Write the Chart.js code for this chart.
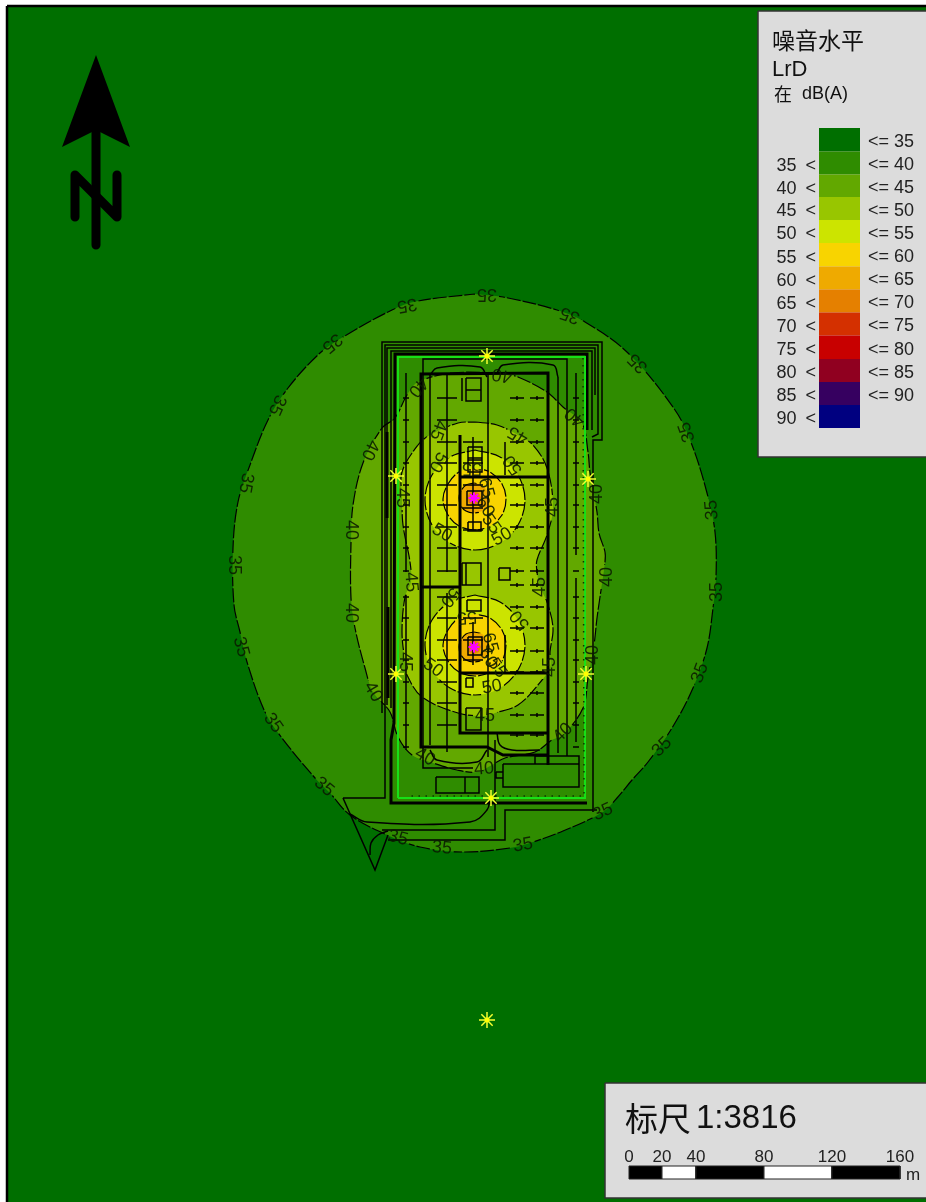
<!DOCTYPE html>
<html><head><meta charset="utf-8">
<style>html,body{margin:0;padding:0;background:#fff}canvas{display:block}</style>
<script src="https://cdn.jsdelivr.net/npm/chart.js@4"></script>
</head><body>
<canvas id="c" width="926" height="1202" style="width:926px;height:1202px"></canvas>
<script>
// Noise bands
const bandColors=['#006f00','#2f8c00','#62a800','#98c600','#cce400','#f8d400','#efaa00','#e58000','#d43000','#c80000','#900020','#360060','#000080'];
const legendEdges=[128,151.5,174.5,197,220,243,266.5,289.5,312.5,335.5,359,382,405,428];
const legendLeft=['','35 <','40 <','45 <','50 <','55 <','60 <','65 <','70 <','75 <','80 <','85 <','90 <'];
const legendRight=['<= 35','<= 40','<= 45','<= 50','<= 55','<= 60','<= 65','<= 70','<= 75','<= 80','<= 85','<= 90',''];
// Contours
const contour35=[[475,294],[503,297],[557,310],[585,322],[628,353],[675,410],[692,445],[707,493],[715,532],[716,578],[713,608],[707,648],[693,688],[672,728],[648,762],[632,780],[617,798],[603,812],[563,831],[530,843],[510,848],[463,852],[420,847],[387,835],[350,815],[330,793],[315,778],[282,738],[265,712],[247,662],[240,632],[234,605],[233,548],[238,502],[250,465],[268,420],[288,388],[320,353],[343,337],[392,310],[418,301],[475,294]];
const contour40=[[502,373],[518,377],[547,392],[563,407],[582,423],[588,452],[590,472],[597,512],[599,533],[605,552],[605,562],[600,597],[597,618],[594,645],[588,678],[583,708],[563,735],[552,740],[535,752],[505,758],[492,765],[477,772],[457,770],[433,763],[412,755],[398,737],[390,712],[373,692],[365,668],[355,628],[351,598],[351,543],[353,505],[363,463],[382,428],[395,418],[407,395],[418,382],[452,373],[502,373]];
const contour45=[[475,422],[497,425],[518,435],[533,445],[547,468],[553,507],[547,535],[537,560],[537,572],[540,587],[547,602],[553,628],[550,652],[550,667],[538,685],[518,705],[495,713],[485,716],[458,713],[422,697],[407,675],[405,662],[402,632],[405,597],[411,582],[410,562],[403,525],[402,498],[402,472],[418,445],[430,435],[458,423],[475,422]];
const contour50a=[[475,450],[500,457],[518,475],[525,500],[518,525],[500,543],[475,550],[450,543],[432,525],[425,500],[432,475],[450,457],[475,450]];
const contour50b=[[475,595],[500,602],[518,620],[525,645],[518,670],[500,688],[475,695],[450,688],[432,670],[425,645],[432,620],[450,602],[475,595]];
const contour55a=[[475,468],[490,472],[502,484],[506,499],[502,515],[490,526],[475,530],[459,526],[448,515],[443,499],[448,484],[459,472],[475,468]];
const contour55b=[[475,614],[490,618],[502,630],[506,645],[502,661],[490,672],[475,676],[459,672],[448,661],[443,645],[448,630],[459,618],[475,614]];
const contour60a=[[474,483],[482,485],[487,491],[489,498],[487,506],[482,511],[474,513],[466,511],[461,506],[459,498],[461,491],[466,485],[474,483]];
const contour60b=[[474,632],[482,634],[487,640],[489,647],[487,655],[482,660],[474,662],[466,660],[461,655],[459,647],[461,640],[466,634],[474,632]];
const contour65a=[[474,491],[479,493],[481,498],[479,503],[474,505],[469,503],[467,498],[469,493],[474,491]];
const contour65b=[[474,640],[479,642],[481,647],[479,652],[474,654],[469,652],[467,647],[469,642],[474,640]];
// contour labels: text, x, y, angle
const contourLabels=[
['35',487,294,180],['35',407,305,170],['35',332,343,140],['35',277,405,115],['35',246,483,100],['35',234,565,90],['35',241,647,75],['35',273,723,55],['35',324,787,40],['35',398,838,15],['35',442,848,5],['35',523,845,-10],['35',603,812,-25],['35',662,747,-45],['35',700,673,-70],['35',717,592,-90],['35',712,510,-95],['35',687,432,-110],['35',638,363,-135],['35',570,315,-160],
['40',370,450,115],['40',351,530,90],['40',351,613,90],['40',373,692,60],['40',425,757,30],['40',484,769,-5],['40',563,733,-45],['40',593,655,-90],['40',607,577,-90],['40',597,494,-90],['40',575,417,220],['40',502,375,190],['40',418,387,130],
['45',438,430,110],['45',518,435,210],['45',553,507,-90],['45',540,587,-90],['45',550,667,-90],['45',485,716,0],['45',405,662,90],['45',411,582,85],['45',402,498,90],
['50',442,533,30],['50',433,668,35],['50',502,537,-30],['50',492,687,-10],['50',520,620,230],['50',438,462,120],['50',513,465,235],['50',450,597,130],
['55',472,468,180],['55',467,617,175],['55',491,524,55],['55',497,668,55],
['60',485,507,60],['60',488,658,60],['65',486,488,75],['65',490,643,75]];
// Site and building lines
const siteThin=[
[[382,713],[382,342],[602,342],[602,440],[593,440],[593,812]],
[[343,798],[385,798],[385,345],[598,345],[598,434],[592,437]],
[[387,705],[387,348],[595,348],[595,395]],
[[391,708],[391,351],[592,351],[592,430]],
[[343,798],[375,870],[388,835]],
[[382,830],[495,830],[495,740]],
[[388,840],[505,840],[505,810],[597,810]],
[[473,768],[423,768],[423,359],[567,359],[567,756]],
[[430,373],[430,745]],[[488,373],[488,757]],[[558,377],[558,753]],
[[473,437],[473,530]],[[473,622],[473,665]],[[505,442],[505,475]],[[505,635],[505,673]],[[462,378],[462,401]],
[[406,373],[406,572]],[[406,595],[406,750]],[[447,375],[447,572]],[[447,593],[447,752]],[[576,373],[576,555]],[[576,578],[576,742]]];
const siteCurves=[
[[350,814],[367,822],[470,822],[487,810],[490,798]],
[[370,855],[371,843],[378,835],[388,831]],
[[430,375],[437,368],[480,367],[487,377]],
[[497,373],[503,365],[553,365],[558,377]],
[[497,733],[500,745],[512,750],[540,750]],
[[430,750],[437,760],[477,762],[487,750]]];
const siteThick=[
[[587,430],[587,354],[395,354],[394,723],[391,740],[391,803],[587,803]],
[[387,432],[387,518]],[[388,607],[388,698]],
[[548,765],[548,373],[421,374],[421,747],[487,747],[503,755],[547,755]],
[[460,435],[460,733],[548,733]],[[460,477],[548,477]],[[460,673],[548,673]],[[420,587],[460,587]]];
const boxes=[[466,378,481,401],[466,390,481,390],[468,447,482,460],[468,458,482,472],[467,491,482,505],[468,522,481,531],[466,563,481,585],[462,563,466,585],[499,568,510,580],[467,600,481,611],[468,637,482,655],[466,678,473,687],[466,708,481,730],[436,777,479,793],[465,777,465,793],[503,764,579,787],[535,756,579,764],[496,772,503,778]];
const greenBoundary=[[398,798],[398,357],[585,357],[585,798],[398,798]];
const dottedBoundary=[[583,358],[584,796],[407,796]];
// tree rows
const rowsWest=[398,420,442,463,485,505,527,548,571,597,618,640,660,682,703,725,747];
const rowsEast=[398,420,442,463,485,505,527,548,571,585,607,628,651,672,693,715,735];
const rowsCore=[442,463,485,508,530,618,640,660];
const receivers=[[487,356],[396,476],[588,479],[396,674],[586,674],[491,798],[487,1020]];
const sources=[[474,498],[474,647]];
// North arrow
const arrowHead=[[96,55],[130,147],[96,130],[62,147],[96,55]];
const arrowStem=[[96,130],[96,245]];
const arrowN=[[75,217],[75,175],[117,217],[117,175]];
// Scale bar
const scaleTicks=['0','20','40','80','120','160'];
const scaleTickX=[629,662,696,764,832,900];
const scaleFill=['#000','#fff','#000','#fff','#000'];

const rect=(a,b,c,d)=>[[a,b],[c,b],[c,d],[a,d],[a,b]];
const pts=l=>l.map(p=>({x:p[0],y:p[1]}));
const multi=l=>{const o=[];l.forEach(s=>{s.forEach(p=>o.push({x:p[0],y:p[1]}));o.push({x:NaN,y:NaN});});return o;};
const ds=[];
const poly=(l,fill,line,w,extra)=>ds.push(Object.assign({data:pts(l),showLine:true,fill:fill?'shape':false,backgroundColor:fill||'transparent',borderColor:line||'transparent',borderWidth:w||0,pointRadius:0,tension:0},extra||{}));
const lines=(l,w,c,t)=>ds.push({data:multi(l),showLine:true,fill:false,borderColor:c||'#000',borderWidth:w,pointRadius:0,tension:t||0,spanGaps:false,borderJoinStyle:'miter'});
const cont=(l,i)=>poly(l,bandColors[i],'#000',1.2,{borderDash:[14,2],tension:0.35,contourLine:true});

poly(rect(7,6,940,1216),bandColors[0],'#000',2.5);
cont(contour35,1);cont(contour40,2);cont(contour45,3);
cont(contour50a,4);cont(contour50b,4);cont(contour55a,5);cont(contour55b,5);
cont(contour60a,6);cont(contour60b,6);poly(contour65a,bandColors[7]);poly(contour65b,bandColors[7]);
lines(siteThin,1.5);
lines(siteCurves,1.5,'#000',0.4);
lines(siteThick,3);
lines(boxes.map(b=>rect(b[0],b[1],b[2],b[3])),1.5);
const tick=(xs,ys,hw)=>{const o=[];xs.forEach(x=>ys.forEach(y=>o.push([[x-hw,y],[x+hw,y]])));return o;};
lines([...tick([406,576],rowsWest,3),...tick([447],rowsWest,10),...tick([517,537],rowsEast,7),...tick([473],rowsCore,10)],1.5);
lines(tick([517,537],rowsEast,0).map(s=>[[s[0][0],s[0][1]-2],[s[0][0],s[0][1]+2]]),1.5);
poly(greenBoundary,null,'#17e017',2);
poly(dottedBoundary,null,'#063',1.5,{borderDash:[1.5,5.5],borderColor:'#0a3a00'});
ds.push({data:pts(receivers),showLine:false,pointStyle:'star',pointRadius:8,borderColor:'#f4ff30',backgroundColor:'#f4ff30',pointBorderWidth:1.5});
ds.push({data:pts(receivers),showLine:false,pointStyle:'circle',pointRadius:2.5,borderColor:'#e8e800',backgroundColor:'#ffff00',pointBorderWidth:0});
ds.push({data:pts(sources),showLine:false,pointStyle:'star',pointRadius:5.5,borderColor:'#ff00ff',backgroundColor:'#ff00ff',pointBorderWidth:2});
ds.push({data:pts(sources),showLine:false,pointStyle:'circle',pointRadius:3,borderColor:'#ff00ff',backgroundColor:'#ff00ff',pointBorderWidth:0});
poly(arrowHead,'#000');
poly(arrowStem,null,'#000',9,{borderCapStyle:'round'});
poly(arrowN,null,'#000',9,{borderCapStyle:'round',borderJoinStyle:'round'});
poly(rect(758,11,940,457),'#dcdcdc','#333',1.5);
bandColors.forEach((c,i)=>poly(rect(819,legendEdges[i],860,legendEdges[i+1]),c));
poly(rect(605,1083,940,1198),'#dcdcdc','#333',1.5);
scaleFill.forEach((c,i)=>poly(rect(scaleTickX[i],1166,scaleTickX[i+1],1179),c,'#222',1));
ds.forEach((d,i)=>d.order=ds.length-i);

const textPlugin={id:'mapText',
 beforeDatasetDraw(ch,args){
  if(!ch.data.datasets[args.index].contourLine)return;
  // leave the contour line open where its label sits
  const g=ch.ctx,X=ch.scales.x,Y=ch.scales.y;
  g.save();g.beginPath();g.rect(0,0,ch.width,ch.height);
  contourLabels.forEach(l=>{
    const a=l[3]*Math.PI/180,c=Math.cos(a),s=Math.sin(a),px=X.getPixelForValue(l[1]),py=Y.getPixelForValue(l[2]);
    [[-12,-8],[12,-8],[12,8],[-12,8]].forEach((q,i)=>{const x=px+q[0]*c-q[1]*s,y=py+q[0]*s+q[1]*c;i?g.lineTo(x,y):g.moveTo(x,y);});
    g.closePath();
  });
  g.clip('evenodd');
 },
 afterDatasetDraw(ch,args){if(ch.data.datasets[args.index].contourLine)ch.ctx.restore();},
 afterDatasetsDraw(ch){
  const g=ch.ctx,X=ch.scales.x,Y=ch.scales.y;
  const put=(t,x,y,font,color,align)=>{g.font=font;g.fillStyle=color||'#111';g.textAlign=align||'left';g.textBaseline='middle';g.fillText(t,X.getPixelForValue(x),Y.getPixelForValue(y));};
  g.save();
  contourLabels.forEach(l=>{g.save();g.translate(X.getPixelForValue(l[1]),Y.getPixelForValue(l[2]));g.rotate(l[3]*Math.PI/180);g.font='18px "Liberation Sans"';g.fillStyle='rgba(10,25,0,0.88)';g.textAlign='center';g.textBaseline='middle';g.fillText(l[0],0,0);g.restore();});
  const sans='"Liberation Sans","Noto Sans CJK SC"';
  put('噪音水平',772,40,'23px "Noto Sans CJK SC"');
  put('LrD',772,70,'22px '+sans);
  put('在',774,94,'18px "Noto Sans CJK SC"');
  put('dB(A)',802,94,'18px '+sans);
  g.wordSpacing='4px';
  legendLeft.forEach((t,i)=>{if(t)put(t,816,(legendEdges[i]+legendEdges[i+1])/2+3,'18px '+sans,'#222','right');});
  g.wordSpacing='0px';
  legendRight.forEach((t,i)=>{if(t)put(t,868,(legendEdges[i]+legendEdges[i+1])/2+2.5,'18px '+sans,'#222','left');});
  put('标尺',625,1118,'33px "Noto Sans CJK SC"');
  put('1:3816',696,1119,'33px '+sans);
  scaleTicks.forEach((t,i)=>put(t,scaleTickX[i],1157,'17px '+sans,'#222','center'));
  put('m',906,1175,'17px '+sans,'#222','left');
  g.restore();
 }};
new Chart(document.getElementById('c'),{type:'scatter',data:{datasets:ds},plugins:[textPlugin],options:{
  responsive:false,animation:false,devicePixelRatio:1,
  layout:{padding:0,autoPadding:false},
  events:[],
  plugins:{legend:{display:false},tooltip:{enabled:false},title:{display:false}},
  scales:{x:{type:'linear',min:0,max:926,display:false},y:{type:'linear',min:0,max:1202,reverse:true,display:false}}
}});
</script>
</body></html>
